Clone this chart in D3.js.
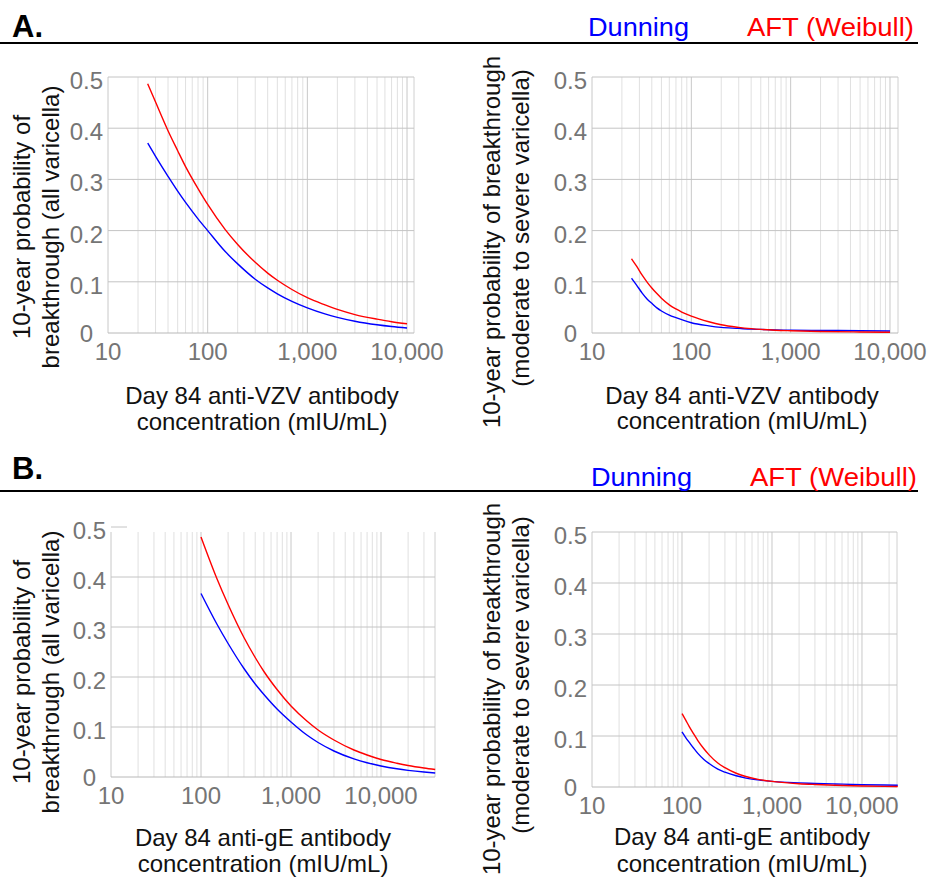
<!DOCTYPE html>
<html>
<head>
<meta charset="utf-8">
<script src="https://cdn.jsdelivr.net/npm/d3@7"></script>
<style>
  html, body { margin: 0; padding: 0; background: #fff; }
  svg { display: block; font-family: "Liberation Sans", Arial, sans-serif; }
</style>
</head>
<body>
<svg id="chart" width="927" height="877"></svg>
<script>
// ---------------- data ----------------
const xTickValues = [10, 100, 1000, 10000];
const yTickValues = [0, 0.1, 0.2, 0.3, 0.4, 0.5];
const seriesNames = ["Dunning", "AFT (Weibull)"];

// Panel A, all varicella (anti-VZV)
const xAall = [25, 30, 40, 50, 60, 80, 100, 150, 200, 300, 400, 500, 700, 1000, 1500, 2000, 3000, 5000, 7000, 10000];
const aAllDunning = [0.371, 0.345, 0.306, 0.277, 0.255, 0.223, 0.200, 0.159, 0.135, 0.105, 0.088, 0.0765, 0.0617, 0.049, 0.0372, 0.0305, 0.0229, 0.016, 0.0126, 0.0098];
const aAllAFT     = [0.487, 0.451, 0.395, 0.356, 0.325, 0.282, 0.251, 0.202, 0.173, 0.138, 0.117, 0.103, 0.085, 0.069, 0.055, 0.046, 0.036, 0.027, 0.022, 0.018];

// Panel A, moderate to severe varicella (anti-VZV)
const xAsev = [25, 28, 32, 36, 40, 45, 50, 60, 70, 80, 100, 150, 200, 300, 400, 500, 700, 1000, 2000, 5000, 10000];
const aSevDunning = [0.107, 0.094, 0.078, 0.066, 0.058, 0.049, 0.043, 0.035, 0.030, 0.026, 0.020, 0.014, 0.011, 0.009, 0.0075, 0.007, 0.006, 0.0055, 0.005, 0.0045, 0.004];
const aSevAFT     = [0.145, 0.131, 0.113, 0.099, 0.088, 0.077, 0.068, 0.055, 0.047, 0.041, 0.033, 0.022, 0.016, 0.011, 0.0085, 0.007, 0.0055, 0.0045, 0.003, 0.002, 0.0015];

// Panel B, all varicella (anti-gE)
const xBall = [100, 150, 200, 300, 400, 500, 700, 1000, 1500, 2000, 3000, 5000, 7000, 10000, 15000, 20000, 30000, 40000];
const bAllDunning = [0.367, 0.306, 0.267, 0.217, 0.186, 0.165, 0.136, 0.110, 0.0839, 0.069, 0.052, 0.0362, 0.0284, 0.022, 0.0164, 0.0133, 0.0099, 0.008];
const bAllAFT     = [0.480, 0.397, 0.345, 0.279, 0.239, 0.211, 0.175, 0.142, 0.112, 0.094, 0.074, 0.054, 0.044, 0.035, 0.0275, 0.023, 0.018, 0.015];

// Panel B, moderate to severe varicella (anti-gE)
const xBsev = [100, 110, 120, 135, 150, 175, 200, 250, 300, 400, 500, 700, 1000, 1500, 2000, 3000, 5000, 10000, 25000];
const bSevDunning = [0.108, 0.097, 0.088, 0.076, 0.066, 0.054, 0.046, 0.035, 0.029, 0.022, 0.018, 0.014, 0.011, 0.009, 0.008, 0.007, 0.006, 0.0045, 0.0035];
const bSevAFT     = [0.144, 0.131, 0.119, 0.104, 0.091, 0.075, 0.063, 0.047, 0.038, 0.027, 0.021, 0.015, 0.011, 0.008, 0.0065, 0.005, 0.0035, 0.002, 0.001];

const yTitleAll = ["10-year probability of", "breakthrough (all varicella)"];
const yTitleSev = ["10-year probability of breakthrough", "(moderate to severe varicella)"];
const xTitleVZV = ["Day 84 anti-VZV antibody", "concentration (mIU/mL)"];
const xTitleGE  = ["Day 84 anti-gE antibody", "concentration (mIU/mL)"];

// ---------------- layout ----------------
const svg = d3.select("#chart");
const colDunning = "#0000ff", colAFT = "#ff0000";
const tickColor = "#757575";

const panels = [
  { x: xAall, s: [aAllDunning, aAllAFT], xMax: 11750, L: 108, R: 414, T: 77, B: 333, yTitle: yTitleAll, yTx: [30, 59], yTc: [227, 227],
    xTitle: xTitleVZV, xTc: 262, xTb: [404, 430], fullTop: true },
  { x: xAsev, s: [aSevDunning, aSevAFT], xMax: 12040, L: 592, R: 898, T: 77, B: 333, yTitle: yTitleSev, yTx: [500, 529], yTc: [242, 228],
    xTitle: xTitleVZV, xTc: 742, xTb: [404, 429], fullTop: true },
  { x: xBall, s: [bAllDunning, bAllAFT], xMax: 39800, L: 111, R: 435, T: 527, B: 777, yTitle: yTitleAll, yTx: [30, 59], yTc: [672, 672],
    xTitle: xTitleGE, xTc: 263, xTb: [846, 872], fullTop: false },
  { x: xBsev, s: [bSevDunning, bSevAFT], xMax: 24500, L: 592, R: 897, T: 532, B: 787, yTitle: yTitleSev, yTx: [500, 529], yTc: [689, 675],
    xTitle: xTitleGE, xTc: 742, xTb: [845, 872], fullTop: true }
];

function minorTicks(xs) {
  return xs.ticks().filter(v => xTickValues.indexOf(v) < 0);
}

panels.forEach(p => {
  const x = d3.scaleLog().domain([10, p.xMax]).range([p.L, p.R]);
  const y = d3.scaleLinear().domain([0, 0.5]).range([p.B, p.T]);
  const g = svg.append("g");
  const vTop = p.fullTop ? y(0.5) : y(0.49);

  g.append("g").selectAll("line").data(minorTicks(x)).join("line")
    .attr("x1", d => x(d)).attr("x2", d => x(d))
    .attr("y1", vTop).attr("y2", y(0))
    .attr("stroke", "#e0e0e0").attr("stroke-width", 1);
  g.append("g").selectAll("line").data(xTickValues).join("line")
    .attr("x1", d => x(d)).attr("x2", d => x(d))
    .attr("y1", vTop).attr("y2", y(0))
    .attr("stroke", "#c8c8c8").attr("stroke-width", 1);
  g.append("line").attr("x1", p.R).attr("x2", p.R).attr("y1", vTop).attr("y2", y(0))
    .attr("stroke", "#d0d0d0");
  g.append("g").selectAll("line").data(yTickValues).join("line")
    .attr("x1", p.L)
    .attr("x2", d => (d === 0.5 && !p.fullTop) ? p.L + 16 : p.R)
    .attr("y1", d => y(d)).attr("y2", d => y(d))
    .attr("stroke", d => d === 0 ? "#b8b8b8" : "#c4c4c4").attr("stroke-width", 1);

  // y tick labels ("0" nudged left so it clears the "10" x label)
  g.append("g").selectAll("text").data(yTickValues).join("text")
    .attr("x", d => d === 0 ? p.L - 15 : p.L - 5)
    .attr("y", d => d === 0 ? y(d) + 9 : y(d) + 12)
    .attr("text-anchor", "end").attr("fill", tickColor).attr("font-size", 24)
    .text(d => d === 0 ? "0" : d3.format(".1f")(d));
  // x tick labels
  g.append("g").selectAll("text").data(xTickValues).join("text")
    .attr("x", d => x(d)).attr("y", p.B + 27)
    .attr("text-anchor", "middle").attr("fill", tickColor).attr("font-size", 24)
    .text(d => d3.format(",")(d));

  const line = d3.line().x(d => x(d[0])).y(d => y(d[1])).curve(d3.curveMonotoneX);
  [colDunning, colAFT].forEach((c, i) => {
    g.append("path").datum(p.x.map((v, k) => [v, p.s[i][k]]))
      .attr("d", line).attr("fill", "none").attr("stroke", c).attr("stroke-width", 1.4);
  });

  p.yTitle.forEach((t, i) => {
    g.append("text")
      .attr("transform", `translate(${p.yTx[i]},${p.yTc[i]}) rotate(-90)`)
      .attr("text-anchor", "middle").attr("font-size", 24).attr("fill", "#111")
      .text(t);
  });
  p.xTitle.forEach((t, i) => {
    g.append("text").attr("x", p.xTc).attr("y", p.xTb[i])
      .attr("text-anchor", "middle").attr("font-size", 24).attr("fill", "#111")
      .text(t);
  });
});

const headers = [
  { label: "A.", ly: 37, lineY: 43, dy: 36, dx: 588, ax: 747 },
  { label: "B.", ly: 479, lineY: 491, dy: 486, dx: 591, ax: 750 }
];
headers.forEach(h => {
  svg.append("text").attr("x", 12).attr("y", h.ly)
    .attr("font-size", 31).attr("font-weight", "bold").attr("fill", "#000").text(h.label);
  svg.append("line").attr("x1", 0).attr("x2", 918).attr("y1", h.lineY).attr("y2", h.lineY)
    .attr("stroke", "#000").attr("stroke-width", 2);
  svg.append("text").attr("x", h.dx).attr("y", h.dy)
    .attr("font-size", 25).attr("fill", colDunning)
    .attr("textLength", 101).attr("lengthAdjust", "spacingAndGlyphs").text(seriesNames[0]);
  svg.append("text").attr("x", h.ax).attr("y", h.dy)
    .attr("font-size", 25).attr("fill", colAFT)
    .attr("textLength", 167).attr("lengthAdjust", "spacingAndGlyphs").text(seriesNames[1]);
});
</script>
</body>
</html>
